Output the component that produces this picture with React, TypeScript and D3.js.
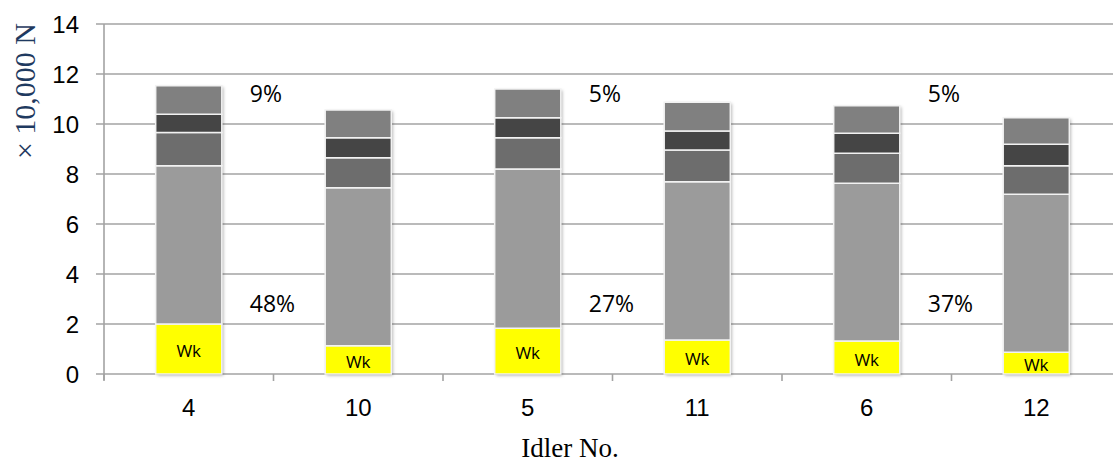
import React from "react";
import * as d3 from "d3";

const categories = ["4", "10", "5", "11", "6", "12"];
const seriesNames = ["Wk", "main", "mid", "dark", "top"];
const wk = [2.0, 1.13, 1.83, 1.36, 1.32, 0.87];
const mainPart = [6.33, 6.32, 6.37, 6.33, 6.31, 6.32];
const midPart = [1.33, 1.2, 1.25, 1.27, 1.2, 1.14];
const darkPart = [0.73, 0.8, 0.8, 0.76, 0.8, 0.86];
const topPart = [1.14, 1.11, 1.15, 1.15, 1.1, 1.06];
const yTicks = [0, 2, 4, 6, 8, 10, 12, 14];
const annotations = [
  { cat: "4", upper: "9%", lower: "48%" },
  { cat: "5", upper: "5%", lower: "27%" },
  { cat: "6", upper: "5%", lower: "37%" },
];

const colors = ["#ffff00", "#9b9b9b", "#6d6d6d", "#454545", "#808080"];

export default function App() {
  const W = 1113, H = 461;
  const x0 = 104, x1 = 1121, yTop = 24, yBot = 374;
  const x = d3.scaleBand<string>().domain(categories).range([x0, x1]).padding(0);
  const y = d3.scaleLinear().domain([0, 14]).range([yBot, yTop]);
  const barW = x.bandwidth() * 0.39;

  const table = categories.map((c, i) => ({
    cat: c,
    Wk: wk[i],
    main: mainPart[i],
    mid: midPart[i],
    dark: darkPart[i],
    top: topPart[i],
  }));
  const stacked = d3.stack<any>().keys(seriesNames)(table);

  const boundaries = d3.range(categories.length + 1).map((i) => x0 + i * x.step());

  return (
    <svg width={W} height={H} style={{ position: "absolute", left: 0, top: 0, background: "#fff" }}>
      <defs>
        <filter id="sh" x="-20%" y="-5%" width="140%" height="110%">
          <feDropShadow dx="1.5" dy="1.5" stdDeviation="1.5" floodColor="#000" floodOpacity="0.3" />
        </filter>
      </defs>
      {/* grid */}
      {yTicks.map((t) => (
        <g key={t}>
          <line x1={96} x2={W} y1={y(t)} y2={y(t)} stroke="#a3a3a3" strokeWidth={1.6} />
          <text x={79} y={y(t)} dy="0.36em" textAnchor="end" fontFamily="Liberation Sans, Arial" fontSize={24} fill="#000">
            {t}
          </text>
        </g>
      ))}
      <line x1={x0} x2={x0} y1={yTop} y2={yBot + 6} stroke="#a3a3a3" strokeWidth={1.6} />
      {boundaries.map((b, i) => (
        <line key={i} x1={b} x2={b} y1={yBot} y2={yBot + 7} stroke="#a3a3a3" strokeWidth={1.6} />
      ))}
      {/* bars */}
      {categories.map((c, i) => {
        const cx = (x(c) as number) + x.bandwidth() / 2;
        return (
          <g key={c}>
            <rect
              x={cx - barW / 2}
              y={y(stacked[stacked.length - 1][i][1])}
              width={barW}
              height={y(0) - y(stacked[stacked.length - 1][i][1])}
              fill="#fff"
              filter="url(#sh)"
            />
            {stacked.map((s, si) => (
              <rect
                key={si}
                x={cx - barW / 2}
                y={y(s[i][1])}
                width={barW}
                height={y(s[i][0]) - y(s[i][1])}
                fill={colors[si]}
                stroke="#f2f2f2"
                strokeWidth={1.5}
              />
            ))}
            <text
              x={cx}
              y={(y(stacked[0][i][0]) + y(stacked[0][i][1])) / 2 + 2}
              dy="0.36em"
              textAnchor="middle"
              fontFamily="Open Sans, Liberation Sans"
              fontSize={17}
              fill="#000"
            >
              Wk
            </text>
            <text x={cx} y={416} textAnchor="middle" fontFamily="Liberation Sans, Arial" fontSize={24} fill="#000">
              {c}
            </text>
          </g>
        );
      })}
      {/* annotations */}
      {annotations.map((a) => {
        const cx = (x(a.cat) as number) + x.bandwidth() / 2;
        return (
          <g key={a.cat}>
            <text x={cx + 61} y={94} dy="0.36em" textAnchor="start" fontFamily="Open Sans, Liberation Sans" fontSize={23} fill="#000">
              {a.upper}
            </text>
            <text x={cx + 61} y={304} dy="0.36em" textAnchor="start" fontFamily="Open Sans, Liberation Sans" fontSize={23} fill="#000">
              {a.lower}
            </text>
          </g>
        );
      })}
      {/* axis titles */}
      <text x={570} y={457} textAnchor="middle" fontFamily="Liberation Serif, DejaVu Serif" fontSize={27} fill="#000">
        Idler No.
      </text>
      <text
        transform={`translate(35, 91) rotate(-90)`}
        textAnchor="middle"
        fontFamily="Liberation Serif, DejaVu Serif"
        fontSize={30}
        fill="#1f3a60"
      >
        × 10,000 N
      </text>
    </svg>
  );
}
